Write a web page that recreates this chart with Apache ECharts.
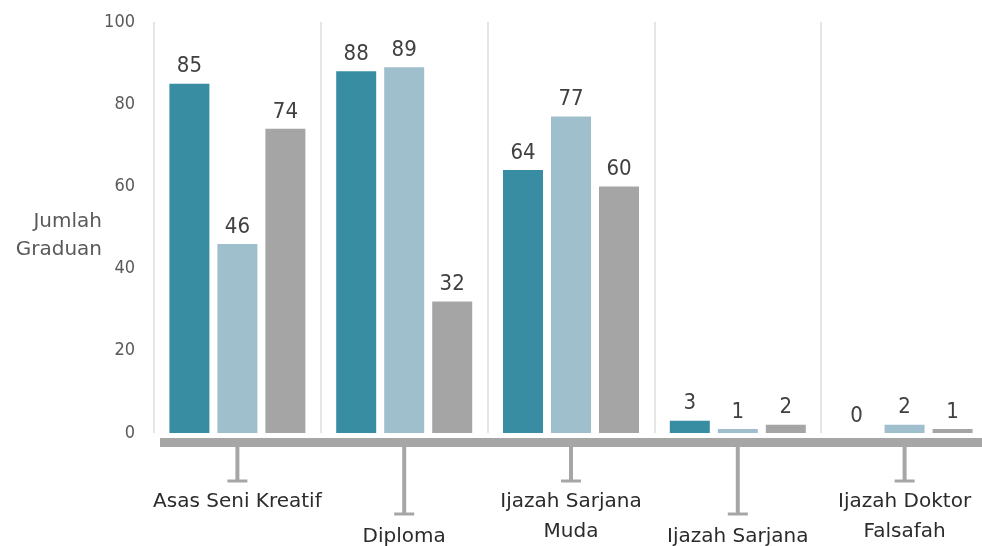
<!DOCTYPE html>
<html>
<head>
<meta charset="utf-8">
<script src="https://cdn.jsdelivr.net/npm/echarts@6/dist/echarts.min.js"></script>
<style>
  html, body { margin: 0; padding: 0; background: #fff; }
  #chart { width: 982px; height: 546px; }
</style>
</head>
<body>
<div id="chart"></div>
<script>
// categories and values
const categories = ['Asas Seni Kreatif', 'Diploma', 'Ijazah Sarjana\nMuda', 'Ijazah Sarjana', 'Ijazah Doktor\nFalsafah'];
const seriesA = [85, 88, 64, 3, 0];
const seriesB = [46, 89, 77, 1, 2];
const seriesC = [74, 32, 60, 2, 1];
const yTicks = [0, 20, 40, 60, 80, 100];

const colors = ['#388da3', '#a0bfcc', '#a5a5a5'];
const numFont = '"DejaVu Sans Condensed", Roboto, sans-serif';
const textFont = '"DejaVu Sans", Lato, sans-serif';

const chart = echarts.init(document.getElementById('chart'));

// label shown above each bar
const barLabel = {
  show: true,
  position: 'top',
  distance: 6,
  color: '#404040',
  fontSize: 22,
  fontFamily: numFont
};

function makeBar(data, i) {
  return {
    type: 'bar',
    data: data,
    barWidth: 40,
    barGap: '20%',
    itemStyle: { color: colors[i] },
    label: barLabel
  };
}

const option = {
  animation: false,
  grid: [
    { left: 154, right: -6, top: 22, bottom: 113, containLabel: false, outerBoundsMode: 'none' },
    { left: 160, right: -6, top: 22, bottom: 113, containLabel: false, outerBoundsMode: 'none' }
  ],
  xAxis: [{
    type: 'category',
    data: categories,
    axisLine: { show: false },
    axisTick: { show: false },
    splitLine: { show: true, lineStyle: { color: '#dcdcdc', width: 1.5 } },
    axisLabel: {
      interval: 0,
      margin: 54,
      formatter: (v, idx) => (idx % 2 ? '{lo|' + v + '}' : '{hi|' + v + '}'),
      rich: {
        hi: { fontFamily: textFont, fontSize: 20, color: '#2b2b2b', lineHeight: 30 },
        lo: { fontFamily: textFont, fontSize: 20, color: '#2b2b2b', lineHeight: 100 }
      }
    }
  }, {
    // thick baseline under the bars
    type: 'category',
    gridIndex: 1,
    data: categories,
    position: 'bottom',
    offset: 9.5,
    axisLine: { show: true, onZero: false, lineStyle: { color: '#a6a6a6', width: 9, cap: 'butt' } },
    axisTick: { show: false },
    axisLabel: { show: false },
    splitLine: { show: false }
  }],
  yAxis: [{
    type: 'value',
    min: 0,
    max: 100,
    interval: 20,
    name: '{s| }\n{a|Jumlah}\n{a|Graduan}',
    nameLocation: 'middle',
    nameRotate: 0,
    nameGap: 52,
    nameMoveOverlap: false,
    nameTextStyle: {
      align: 'right',
      rich: {
        s: { fontSize: 10, lineHeight: 17 },
        a: { fontFamily: textFont, fontSize: 20, color: '#595959', lineHeight: 28, align: 'right' }
      }
    },
    axisLine: { show: false },
    axisTick: { show: false },
    splitLine: { show: false },
    axisLabel: {
      margin: 19,
      color: '#595959',
      fontSize: 18,
      fontFamily: numFont,
      formatter: v => (yTicks.includes(v) ? String(v) : '')
    }
  }, {
    type: 'value',
    gridIndex: 1,
    min: 0,
    max: 100,
    show: false
  }],
  series: [
    makeBar(seriesA, 0),
    makeBar(seriesB, 1),
    makeBar(seriesC, 2),
    {
      // T-shaped leader ticks under each category
      type: 'custom',
      silent: true,
      clip: false,
      data: categories.map((c, i) => [i, 0]),
      renderItem: function (params, api) {
        const p = api.coord([api.value(0), 0]);
        const y0 = p[1] + 14;
        const y1 = p[1] + (params.dataIndex % 2 ? 81 : 48);
        return {
          type: 'group',
          children: [
            { type: 'line', shape: { x1: p[0], y1: y0, x2: p[0], y2: y1 }, style: { stroke: '#a6a6a6', lineWidth: 4 } },
            { type: 'line', shape: { x1: p[0] - 10, y1: y1, x2: p[0] + 10, y2: y1 }, style: { stroke: '#a6a6a6', lineWidth: 3 } }
          ]
        };
      }
    }
  ]
};

chart.setOption(option);
</script>
</body>
</html>
